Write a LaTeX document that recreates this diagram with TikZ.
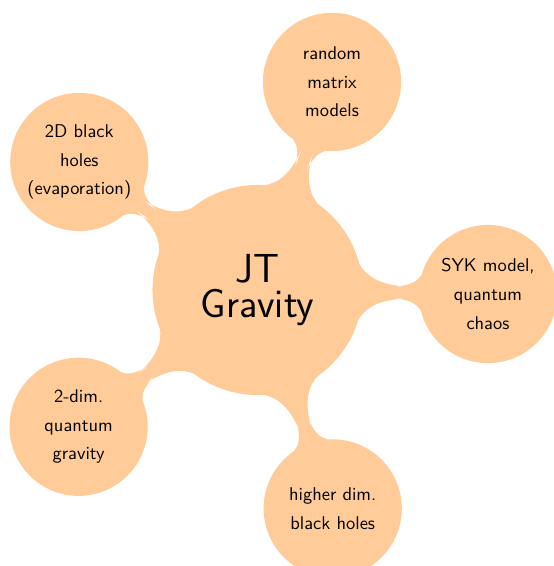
\documentclass[tikz,border=0pt]{standalone}
\usetikzlibrary{mindmap}
\colorlet{ConceptOrange}{orange!40}
\tikzstyle{racine} = [concept, fill=ConceptOrange, minimum size=3.96cm, inner sep=0pt, text width=3cm, align=center, font=\sffamily\fontsize{22}{19}\selectfont]
\tikzstyle{theme} = [concept, fill=ConceptOrange, minimum size=2.59cm, inner sep=0pt, text width=2.1cm, align=center, font=\sffamily\fontsize{10}{15.5}\selectfont]
\tikzstyle{lien} = [circle connection bar switch color=from (ConceptOrange) to (ConceptOrange)]

\begin{document}
\begin{tikzpicture}[mindmap, concept color=ConceptOrange]
\useasboundingbox (-4.905,-5.257) rectangle (5.629,5.524);

% Concept central
\node (jt) [racine] at (0,0) {JT\\Gravity};

% Thèmes autour
\node (rmt) [theme] at (70.3:4.21) {random\\matrix\\models};
\node (syk) [theme] at (-1:4.39) {SYK model,\\quantum\\chaos};
\node (higher) [theme] at (-71:4.4) {higher dim.\\black holes};
\node (twodim) [theme] at (217.4:4.29) {2-dim.\\quantum\\gravity};
\node (bh) [theme] at (144.3:4.18) {2D black\\holes\\(evaporation)};

% Liaisons
\path (jt) to[lien] (rmt);
\path (jt) to[lien] (syk);
\path (jt) to[lien] (higher);
\path (jt) to[lien] (twodim);
\path (jt) to[lien] (bh);

\end{tikzpicture}
\end{document}
